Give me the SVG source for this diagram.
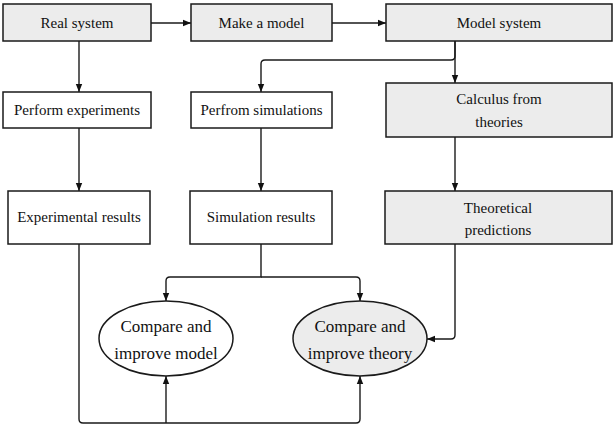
<svg xmlns="http://www.w3.org/2000/svg" width="613" height="427" viewBox="0 0 613 427">
<style>
.box{stroke:#1a1a1a;stroke-width:1.5}
.g{fill:#ececec}
.w{fill:#ffffff}
text{font-family:'Liberation Serif','Times New Roman','DejaVu Serif',serif;fill:#111;text-anchor:middle}
.t{font-size:15px}
.te{font-size:17px}
.c{fill:none;stroke:#1a1a1a;stroke-width:1.4}
</style>
<defs>
<marker id="ah" viewBox="0 0 10 10" refX="10" refY="5" markerWidth="8" markerHeight="8" markerUnits="userSpaceOnUse" orient="auto">
<path d="M0,1 L10,5 L0,9 Z" fill="#111"/>
</marker>
</defs>
<rect width="613" height="427" fill="#fff"/>
<g id="connectors">
<path class="c" d="M151,23 H191" marker-end="url(#ah)"/>
<path class="c" d="M332,23 H386" marker-end="url(#ah)"/>
<path class="c" d="M79,41 V92" marker-end="url(#ah)"/>
<path class="c" d="M455,41 V83" marker-end="url(#ah)"/>
<path class="c" d="M455,41 V56 Q455,60 451,60 H265 Q261,60 261,64 V92" marker-end="url(#ah)"/>
<path class="c" d="M79,128 V191" marker-end="url(#ah)"/>
<path class="c" d="M261,128 V191" marker-end="url(#ah)"/>
<path class="c" d="M455,137 V191" marker-end="url(#ah)"/>
<path class="c" d="M79,244 V419 Q79,423 83,423 H356 Q360,423 360,419 V376" marker-end="url(#ah)"/>
<path class="c" d="M166,423 V376" marker-end="url(#ah)"/>
<path class="c" d="M261,244 V277 H170 Q166,277 166,281 V301" marker-end="url(#ah)"/>
<path class="c" d="M261,277 H356 Q360,277 360,281 V301" marker-end="url(#ah)"/>
<path class="c" d="M455,244 V335 Q455,339 451,339 H427" marker-end="url(#ah)"/>
</g>
<g id="real-system"><rect class="box g" x="3" y="4" width="148" height="37"/><text class="t" x="77" y="28">Real system</text></g>
<g id="make-model"><rect class="box g" x="191" y="4" width="141" height="37"/><text class="t" x="261.5" y="28">Make a model</text></g>
<g id="model-system"><rect class="box g" x="386" y="4" width="226" height="37"/><text class="t" x="499" y="28">Model system</text></g>
<g id="perform-experiments"><rect class="box w" x="3" y="92" width="148" height="36"/><text class="t" x="77" y="115">Perform experiments</text></g>
<g id="perform-simulations"><rect class="box w" x="191" y="92" width="141" height="36"/><text class="t" x="261.5" y="115">Perfrom simulations</text></g>
<g id="calculus"><rect class="box g" x="386" y="83" width="226" height="54"/><text class="t" x="499" y="104">Calculus from</text><text class="t" x="499" y="127">theories</text></g>
<g id="experimental-results"><rect class="box w" x="8" y="191" width="142" height="53"/><text class="t" x="79" y="222">Experimental results</text></g>
<g id="simulation-results"><rect class="box w" x="190" y="191" width="142" height="53"/><text class="t" x="261" y="222">Simulation results</text></g>
<g id="theoretical-predictions"><rect class="box g" x="385" y="191" width="227" height="53"/><text class="t" x="498" y="213">Theoretical</text><text class="t" x="498" y="235">predictions</text></g>
<g id="compare-model"><ellipse class="box w" cx="166" cy="338.5" rx="67" ry="37.5"/><text class="te" x="166" y="332">Compare and</text><text class="te" x="166" y="359">improve model</text></g>
<g id="compare-theory"><ellipse class="box g" cx="360" cy="338.5" rx="67" ry="37.5"/><text class="te" x="360" y="332">Compare and</text><text class="te" x="360" y="359">improve theory</text></g>
</svg>
